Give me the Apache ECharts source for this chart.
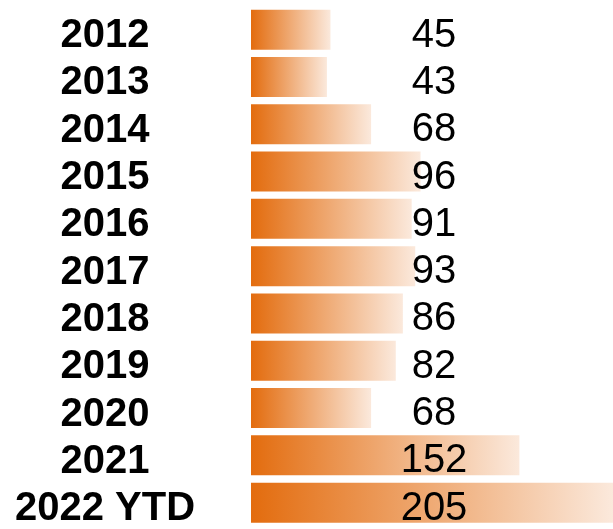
<!DOCTYPE html>
<html>
<head>
<meta charset="utf-8">
<script src="https://cdn.jsdelivr.net/npm/echarts@6/dist/echarts.min.js"></script>
<style>
  html, body { margin: 0; padding: 0; background: #fff; }
  #chart { width: 613px; height: 529px; }
</style>
</head>
<body>
<div id="chart"></div>
<script>
const years = ['2012', '2013', '2014', '2015', '2016', '2017', '2018', '2019', '2020', '2021', '2022 YTD']
const counts = [45, 43, 68, 96, 91, 93, 86, 82, 68, 152, 205]

const chart = echarts.init(document.getElementById('chart'))
const font = '"Liberation Sans", Arial, sans-serif'

let option = {
  animation: false,
  grid: {
    left: 251,
    right: 0,
    top: 6,
    height: 524
  },
  xAxis: {
    type: 'value',
    min: 0,
    max: 205,
    show: false
  },
  yAxis: {
    type: 'category',
    data: years,
    inverse: true,
    axisLine: { show: false },
    axisTick: { show: false },
    splitLine: { show: false },
    axisLabel: {
      interval: 0,
      margin: 146,
      align: 'center',
      formatter: '{y|{value}}',
      rich: {
        y: {
          fontFamily: font,
          fontWeight: 'bold',
          fontSize: 40,
          color: '#000',
          padding: [13, 0, 0, 0]
        }
      }
    }
  },
  series: [
    {
      type: 'bar',
      data: counts,
      barWidth: 40,
      itemStyle: {
        color: new echarts.graphic.LinearGradient(0, 0, 1, 0, [
          { offset: 0, color: '#e36c0e' },
          { offset: 1, color: '#fbe9dc' }
        ])
      },
      label: {
        show: true,
        position: [183, '50%'],
        align: 'center',
        verticalAlign: 'middle',
        offset: [0, 6],
        fontFamily: font,
        fontSize: 40,
        color: '#000'
      }
    }
  ]
}
option && chart.setOption(option)
</script>
</body>
</html>
